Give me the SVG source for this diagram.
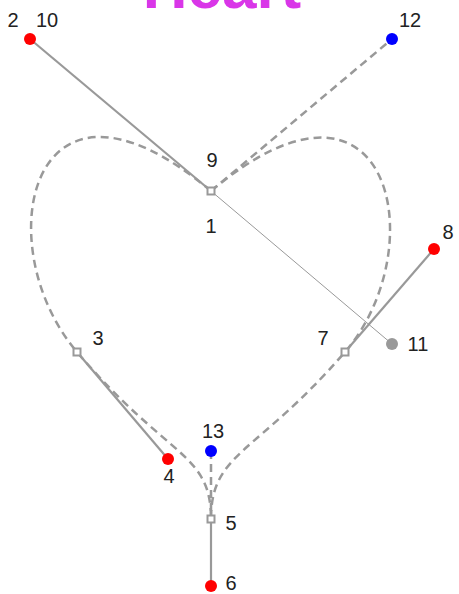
<svg xmlns="http://www.w3.org/2000/svg" width="459" height="594" viewBox="0 0 459 594">
<style>
.lbl{font-family:"Liberation Sans",Arial,sans-serif;font-size:20px;fill:#222;text-anchor:middle}
.title{font-family:"Liberation Sans",Arial,sans-serif;font-size:62px;font-weight:bold;fill:#d936e8;text-anchor:middle}
.solid{stroke:#999;stroke-width:2.2;fill:none}
.thin{stroke:#999;stroke-width:1;fill:none}
.dash{stroke:#999;stroke-width:2.5;fill:none;stroke-dasharray:8 5}
.sq{fill:#fff;stroke:#999;stroke-width:2}
</style>
<rect width="459" height="594" fill="#fff"/>
<text class="title" x="222" y="8">Heart</text>
<g id="connectors">
<path class="dash" d="M211,191 C30,39 -14,245 77,352 C168,459 211,452 211,519"/>
<path class="dash" d="M211,191 C392,39 434,249 345,352 C256,455 211,452 211,519"/>
<line class="solid" x1="30" y1="39" x2="211" y2="191"/>
<line class="thin" x1="211" y1="191" x2="392" y2="344"/>
<line class="dash" x1="211" y1="191" x2="392" y2="39"/>
<line class="solid" x1="77" y1="352" x2="168" y2="459"/>
<line class="solid" x1="345" y1="352" x2="434" y2="249"/>
<line class="solid" x1="211" y1="519" x2="211" y2="586"/>
<line class="dash" x1="211" y1="451" x2="211" y2="519"/>
</g>
<g id="n10"><circle cx="30" cy="39" r="6" fill="#f00"/><text class="lbl" x="13" y="27">2</text><text class="lbl" x="47" y="27">10</text></g>
<g id="n12"><circle cx="392" cy="39" r="6" fill="#00f"/><text class="lbl" x="410" y="27">12</text></g>
<g id="n1"><rect class="sq" x="207.5" y="187.5" width="7" height="7"/><text class="lbl" x="212" y="167">9</text><text class="lbl" x="211" y="233">1</text></g>
<g id="n11"><circle cx="392" cy="344" r="6" fill="#999"/><text class="lbl" x="418" y="351">11</text></g>
<g id="n3"><rect class="sq" x="73.5" y="348.5" width="7" height="7"/><text class="lbl" x="98" y="345">3</text></g>
<g id="n4"><circle cx="168" cy="459" r="6" fill="#f00"/><text class="lbl" x="169" y="483">4</text></g>
<g id="n7"><rect class="sq" x="341.5" y="348.5" width="7" height="7"/><text class="lbl" x="323" y="345">7</text></g>
<g id="n8"><circle cx="434" cy="249" r="6" fill="#f00"/><text class="lbl" x="448" y="239">8</text></g>
<g id="n13"><circle cx="211" cy="451" r="6" fill="#00f"/><text class="lbl" x="213" y="438">13</text></g>
<g id="n5"><rect class="sq" x="207.5" y="515.5" width="7" height="7"/><text class="lbl" x="231" y="530">5</text></g>
<g id="n6"><circle cx="211" cy="586" r="6" fill="#f00"/><text class="lbl" x="231" y="590">6</text></g>
</svg>
